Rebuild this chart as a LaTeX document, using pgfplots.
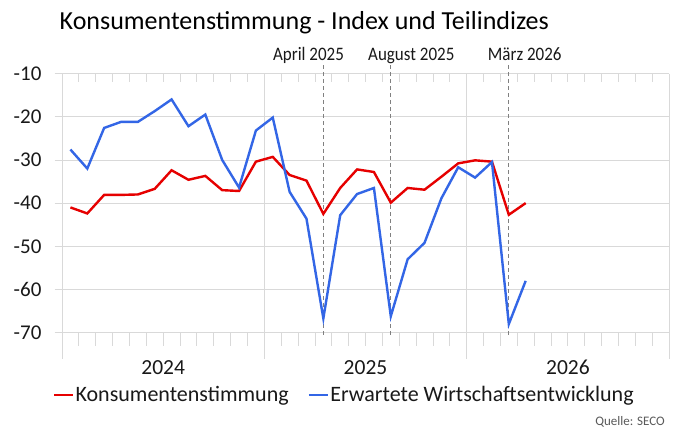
\documentclass[border=0pt]{standalone}
\usepackage{pgfplots}
\pgfplotsset{compat=1.18}
\usepackage{pgfplotstable}
\usepackage{fontspec}
\setmainfont{Carlito}
\definecolor{cred}{RGB}{230,0,0}
\definecolor{cblue}{RGB}{51,102,230}
\definecolor{gridc}{RGB}{217,217,217}
\definecolor{dashc}{RGB}{128,128,128}
\definecolor{txt}{RGB}{25,25,25}
\definecolor{srcc}{RGB}{89,89,89}

\pgfplotstableread{
x red blue
0.5 -41.0 -27.6
1.5 -42.4 -32.0
2.5 -38.1 -22.6
3.5 -38.1 -21.2
4.5 -38.0 -21.2
5.5 -36.7 -18.7
6.5 -32.4 -16.0
7.5 -34.6 -22.2
8.5 -33.7 -19.5
9.5 -37.0 -30.0
10.5 -37.2 -36.4
11.5 -30.4 -23.2
12.5 -29.3 -20.2
13.5 -33.5 -37.4
14.5 -34.8 -43.6
15.5 -42.5 -66.7
16.5 -36.5 -42.8
17.5 -32.2 -37.9
18.5 -32.8 -36.5
19.5 -39.9 -66.2
20.5 -36.5 -53.0
21.5 -36.9 -49.2
22.5 -33.9 -38.9
23.5 -30.8 -31.7
24.5 -30.1 -34.1
25.5 -30.4 -30.5
26.5 -42.7 -68.0
27.5 -40.0 -58.0
}\data

\begin{document}
\begin{tikzpicture}
\fill[white] (0,0) rectangle (680pt,-439pt);
\begin{axis}[
  at={(62pt,-332.7pt)}, anchor=south west,
  scale only axis, width=607pt, height=259.2pt,
  xmin=0, xmax=36, ymin=-70, ymax=-10,
  clip=false,
  axis line style={draw=none},
  xtick=\empty,
  ytick={-70,-60,-50,-40,-30,-20,-10},
  yticklabels={-70,-60,-50,-40,-30,-20,-10},
  ytick pos=left, tick align=outside, major tick length=7.4pt,
  ytick style={gridc, line width=0.8pt},
  ymajorgrids, major grid style={gridc, line width=0.8pt},
  yticklabel style={font=\fontsize{21}{21}\selectfont, inner sep=0pt, xshift=-13pt, text=txt},
  legend columns=2,
  legend style={at={(axis description cs:-0.0153,-0.2404)}, anchor=west,
    draw=none, fill=none, inner sep=0pt,
    font=\fontsize{22}{22}\selectfont, text=txt,
    nodes={inner sep=1pt},
    /tikz/every even column/.append style={column sep=18pt}},
  legend cell align=left,
  legend image code/.code={\draw[#1] (0pt,0pt) -- (19.3pt,0pt);},
]
\pgfplotsinvokeforeach{0,12,24,36}{
  \draw[gridc, line width=0.8pt] (axis cs:#1,-10) -- ([yshift=-26.3pt]axis cs:#1,-70);
}
\pgfplotsinvokeforeach{1,2,3,4,5,6,7,8,9,10,11,13,14,15,16,17,18,19,20,21,22,23,25,26,27,28,29,30,31,32,33,34,35}{
  \draw[gridc, line width=0.8pt] (axis cs:#1,-70) -- ([yshift=-13pt]axis cs:#1,-70);
  \draw[gridc, line width=0.8pt] (axis cs:#1,-10) -- ([yshift=-8pt]axis cs:#1,-10);
}
\pgfplotsinvokeforeach{15.5,19.5,26.5}{
  \draw[dashc, line width=0.8pt, dash pattern=on 4pt off 3pt] ([yshift=8.5pt]axis cs:#1,-10) -- ([yshift=-3.3pt]axis cs:#1,-70);
}
\addplot[cred, line width=2.4pt] table[x=x,y=red]{\data};
\addlegendentry{Konsumentenstimmung}
\addplot[cblue, line width=2.4pt] table[x=x,y=blue]{\data};
\addlegendentry{Erwartete Wirtschaftsentwicklung}
\end{axis}
\node[anchor=base west, inner sep=0pt, text=black, font=\fontsize{26}{26}\selectfont] at (59.5pt,-29pt) {Konsumentenstimmung - Index und Teilindizes};
\begin{scope}[every node/.style={anchor=base, inner sep=0pt, text=txt, font=\fontsize{17}{17}\selectfont}]
\node at (308.5pt,-60.7pt) {\scalebox{1}[1.12]{April 2025}};
\node at (411.3pt,-60.7pt) {\scalebox{1}[1.12]{August 2025}};
\node at (524.7pt,-60.7pt) {\scalebox{1}[1.12]{März 2026}};
\end{scope}
\begin{scope}[every node/.style={anchor=base, inner sep=0pt, text=txt, font=\fontsize{21.5}{21.5}\selectfont}]
\node at (163.2pt,-374.3pt) {2024};
\node at (365.5pt,-374.3pt) {2025};
\node at (567.9pt,-374.3pt) {2026};
\end{scope}
\node[anchor=base east, inner sep=0pt, text=srcc, font=\fontsize{13}{13}\selectfont] at (665pt,-425.7pt) {Quelle: SECO};
\pgfresetboundingbox
\path (0,0) rectangle (680pt,-439pt);
\end{tikzpicture}
\end{document}
